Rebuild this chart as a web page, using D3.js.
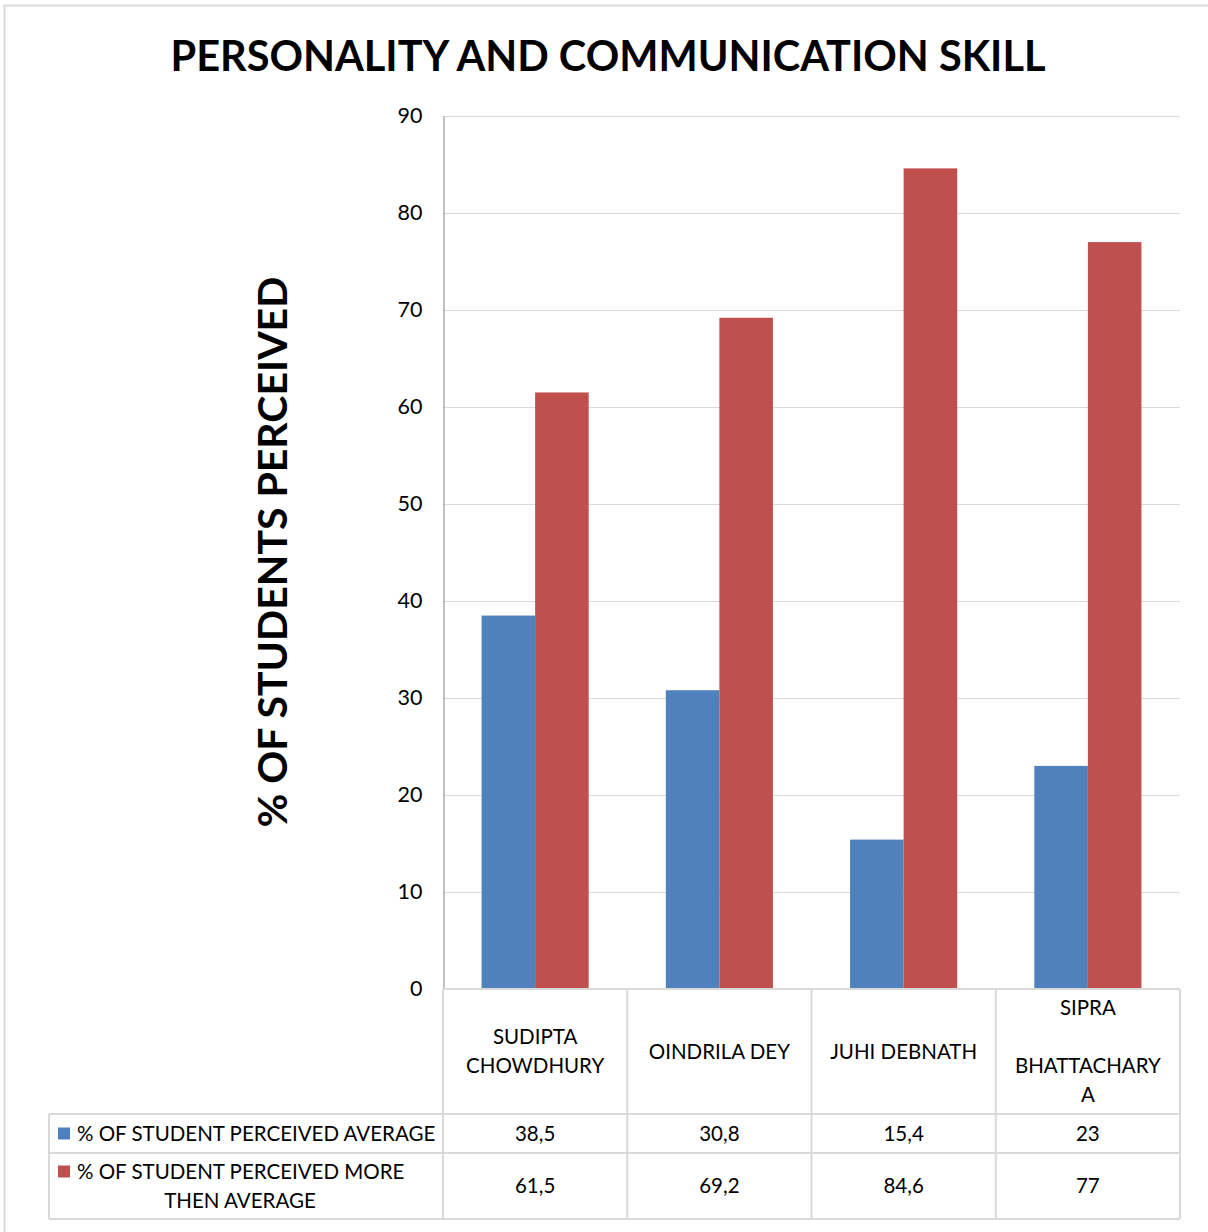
<!DOCTYPE html>
<html><head><meta charset="utf-8">
<script src="https://cdn.jsdelivr.net/npm/d3@7"></script>
<style>body{margin:0;background:#fff}svg{display:block}text{font-family:Lato,"Noto Sans",sans-serif;fill:#000}</style>
</head><body><svg id="c" width="1208" height="1232"></svg>
<script>
const title = "PERSONALITY AND COMMUNICATION SKILL";
const yTitle = "% OF STUDENTS PERCEIVED";
const categories = ["SUDIPTA CHOWDHURY","OINDRILA DEY","JUHI DEBNATH","SIPRA BHATTACHARYA"];
const categoryLines = [["SUDIPTA","CHOWDHURY"],["OINDRILA DEY"],["JUHI DEBNATH"],["SIPRA","","BHATTACHARY","A"]];
const seriesNames = ["% OF STUDENT PERCEIVED AVERAGE","% OF STUDENT PERCEIVED MORE THEN AVERAGE"];
const seriesLines = [["% OF STUDENT PERCEIVED AVERAGE"],["% OF STUDENT PERCEIVED MORE","THEN AVERAGE"]];
const averageVals = [38.5,30.8,15.4,23];
const moreVals = [61.5,69.2,84.6,77];
const valueLabels = [["38,5","30,8","15,4","23"],["61,5","69,2","84,6","77"]];
const yTicks = [0,10,20,30,40,50,60,70,80,90];
const colors = ["#4F81BD","#C0504D"];

const svg = d3.select("#c");
const L = 443, R = 1180, T = 116, B = 989;
const tableLeft = 49, hdrBottom = 1114, row1Bottom = 1153, row2Bottom = 1219;
const grid = "#d9d9d9";
const fs = 20.5;

// outer border
svg.append("path").attr("d","M4.5,1232 L4.5,5.5 L1208,5.5").attr("fill","none").attr("stroke","#d9d9d9").attr("stroke-width",2);

svg.append("text").attr("x",608).attr("y",71).attr("text-anchor","middle")
  .attr("font-size",41.5).attr("font-weight","bold").text(title);

const y = d3.scaleLinear().domain([0,90]).range([B,T]);
const x0 = d3.scaleBand().domain(categories).range([L,R]).paddingInner(0).paddingOuter(0);
const x1 = d3.scaleBand().domain([0,1]).range([0,x0.bandwidth()]).paddingOuter(0.72).paddingInner(0);

// gridlines
svg.append("g").selectAll("line").data(yTicks.filter(t=>t>0)).join("line")
  .attr("x1",L).attr("x2",R).attr("y1",d=>y(d)+0.5).attr("y2",d=>y(d)+0.5)
  .attr("stroke",grid).attr("stroke-width",1);

// y axis
const yAxis = d3.axisLeft(y).tickValues(yTicks).tickSize(0).tickPadding(21);
const ga = svg.append("g").attr("transform",`translate(${L+0.5},0)`).call(yAxis);
ga.select(".domain").attr("stroke","#868686");
ga.selectAll("text").attr("font-size",21.5).attr("font-family","Lato, sans-serif").attr("fill","#000");

// y title
svg.append("text").attr("transform","translate(287,552) rotate(-90)").attr("text-anchor","middle")
  .attr("font-size",41).attr("font-weight","bold").text(yTitle);

// bars
const series = [averageVals, moreVals];
series.forEach((vals,si)=>{
  svg.append("g").selectAll("rect").data(vals).join("rect")
    .attr("x",(d,i)=>x0(categories[i])+x1(si))
    .attr("width",x1.bandwidth())
    .attr("y",d=>y(d)).attr("height",d=>B-y(d))
    .attr("fill",colors[si]);
});

// table
const tg = svg.append("g").attr("stroke",grid).attr("stroke-width",2).attr("fill","none");
tg.append("line").attr("x1",L).attr("x2",R).attr("y1",B).attr("y2",B);
[hdrBottom,row1Bottom,row2Bottom].forEach(yy=>tg.append("line").attr("x1",tableLeft).attr("x2",R).attr("y1",yy).attr("y2",yy));
tg.append("line").attr("x1",tableLeft).attr("x2",tableLeft).attr("y1",hdrBottom).attr("y2",row2Bottom);
categories.forEach(c=>tg.append("line").attr("x1",x0(c)).attr("x2",x0(c)).attr("y1",B).attr("y2",row2Bottom));
tg.append("line").attr("x1",R).attr("x2",R).attr("y1",B).attr("y2",row2Bottom);

// category labels
categories.forEach((c,i)=>{
  const lines = categoryLines[i];
  const cx = x0(c)+x0.bandwidth()/2;
  const mid = (B+hdrBottom)/2;
  const lh = 29;
  const start = mid - (lines.length-1)*lh/2;
  lines.forEach((ln,j)=>{
    svg.append("text").attr("x",cx).attr("y",start+j*lh).attr("dy","0.35em")
      .attr("text-anchor","middle").attr("font-size",fs).text(ln);
  });
});

// legend rows & values
const rowMids = [(hdrBottom+row1Bottom)/2,(row1Bottom+row2Bottom)/2];
seriesLines.forEach((lines,si)=>{
  const mid = rowMids[si];
  const lh = 29;
  const start = mid-(lines.length-1)*lh/2;
  svg.append("rect").attr("x",58).attr("y",start-6).attr("width",12).attr("height",12).attr("fill",colors[si]);
  lines.forEach((ln,j)=>{
    if(j===0) svg.append("text").attr("x",77).attr("y",start).attr("dy","0.35em").attr("font-size",fs).text(ln);
    else svg.append("text").attr("x",240).attr("y",start+j*lh).attr("dy","0.35em").attr("text-anchor","middle").attr("font-size",fs).text(ln);
  });
  categories.forEach((c,i)=>{
    svg.append("text").attr("x",x0(c)+x0.bandwidth()/2).attr("y",mid).attr("dy","0.35em")
      .attr("text-anchor","middle").attr("font-size",fs).text(valueLabels[si][i]);
  });
});
</script></body></html>
